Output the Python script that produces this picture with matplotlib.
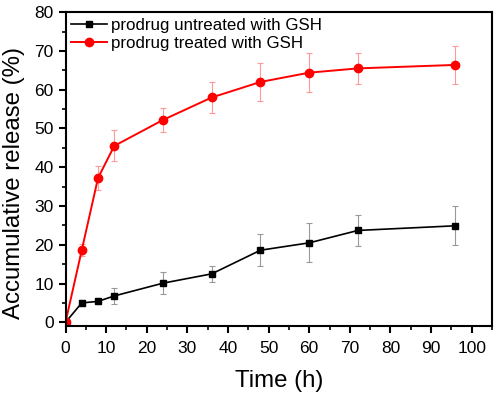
import matplotlib.pyplot as plt
from matplotlib.ticker import MultipleLocator

plt.rcParams['font.family'] = ['Liberation Sans', 'DejaVu Sans']

# data
time_h = [0, 4, 8, 12, 24, 36, 48, 60, 72, 96]
untreated = [0, 5.0, 5.4, 6.8, 10.1, 12.5, 18.6, 20.5, 23.7, 24.9]
untreated_err = [0, 0.8, 0.8, 2.0, 2.9, 2.0, 4.1, 5.0, 4.0, 5.0]
treated = [0, 18.6, 37.2, 45.5, 52.2, 58.0, 62.0, 64.4, 65.5, 66.4]
treated_err = [0, 1.6, 3.0, 4.0, 3.0, 4.0, 4.9, 5.0, 4.0, 5.0]

labels = ['prodrug untreated with GSH', 'prodrug treated with GSH']

fig = plt.figure(figsize=(5, 3.93), dpi=100)
ax = fig.add_axes([0.131, 0.17, 0.853, 0.799])

# error bars first, in pale colours
ax.errorbar(time_h, untreated, yerr=untreated_err, fmt='none',
            ecolor='#999999', elinewidth=0.8, capsize=2.5, capthick=0.8)
ax.errorbar(time_h, treated, yerr=treated_err, fmt='none',
            ecolor='#ff9999', elinewidth=0.8, capsize=2.5, capthick=0.8)

ax.plot(time_h, untreated, color='black', marker='s', ms=5, lw=1.2,
        label=labels[0])
ax.plot(time_h, treated, color='red', marker='o', ms=6, lw=1.4,
        label=labels[1])

ax.set_xlim(0, 105)
ax.set_ylim(-1, 80)
ax.xaxis.set_major_locator(MultipleLocator(10))
ax.xaxis.set_minor_locator(MultipleLocator(5))
ax.yaxis.set_major_locator(MultipleLocator(10))
ax.yaxis.set_minor_locator(MultipleLocator(5))
ax.tick_params(which='major', direction='out', length=5, width=1.5,
               labelsize=12.5, top=False, right=False)
ax.tick_params(axis='x', which='major', pad=6)
ax.tick_params(which='minor', direction='out', length=3, width=1.2,
               top=False, right=False)
for s in ax.spines.values():
    s.set_linewidth(1.5)

ax.set_xlabel('Time (h)', fontsize=17.3, labelpad=10)
# label sits a little below the axis centre in the original
ax.set_ylabel('Accumulative release (%)', fontsize=17.3, labelpad=6.5, y=0.455)

ax.legend(loc='upper left', frameon=False, fontsize=12.2, handlelength=2.1,
          handletextpad=0.25, borderpad=0.2, borderaxespad=0.15,
          labelspacing=0.15)

fig.savefig('out.png', dpi=100)
